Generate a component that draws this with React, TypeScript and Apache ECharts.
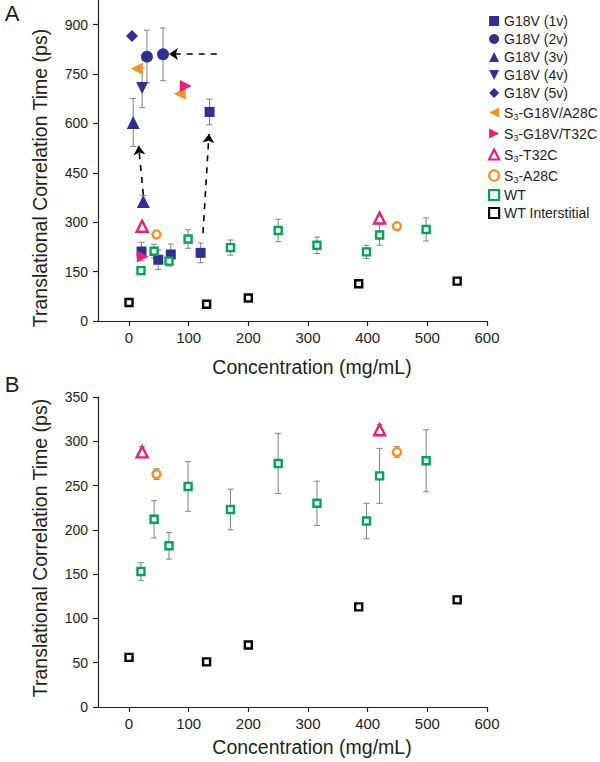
import React, { useEffect, useRef } from "react";
import * as echarts from "echarts";

// ---------- data ----------
const wtX = [20, 42, 67, 99, 170, 250, 315, 398, 420, 498];
const wtY = [153, 212, 182, 249, 223, 275, 230, 210, 261, 278];
const wtErr = [10, 21, 15, 28, 23, 34, 25, 20, 31, 35];

const wiX = [0, 130, 200, 385, 550];
const wiY = [56, 51, 70, 113, 121];

const t32cX = [22, 420];
const t32cY = [288, 313];
const t32cErr = [6, 6];

const a28cX = [46, 449];
const a28cY = [263, 288];
const a28cErr = [6, 6];

const v1X = [21, 49, 70, 120, 135];
const v1Y = [211, 186, 202, 207, 635];
const v1Err = [28, 30, 32, 30, 39];

const v2X = [30, 57];
const v2Y = [803, 810];
const v2Err = [80, 80];

const v3X = [7, 24];
const v3Y = [603, 363];
const v3Err = [73, 18];

const v4X = [22];
const v4Y = [708];
const v4Err = [60];

const v5X = [5];
const v5Y = [866];

const gA28cX = [13, 85];
const gA28cY = [766, 690];

const gT32cX = [23, 95];
const gT32cY = [196, 714];

// arrows in panel A: [x0, y0, x1, y1]
const arrows = [
  [24, 383, 16, 532],
  [124, 267, 134, 568],
  [147, 811, 67, 811],
];

const xTicks = [0, 100, 200, 300, 400, 500, 600];
const yTicksA = [0, 150, 300, 450, 600, 750, 900];
const yTicksB = [0, 50, 100, 150, 200, 250, 300, 350];

const legendNames = [
  "G18V (1v)",
  "G18V (2v)",
  "G18V (3v)",
  "G18V (4v)",
  "G18V (5v)",
  "S3-G18V/A28C",
  "S3-G18V/T32C",
  "S3-T32C",
  "S3-A28C",
  "WT",
  "WT Interstitial",
];
const hollowNames = ["S3-T32C", "S3-A28C", "WT", "WT Interstitial"];

// ---------- styles ----------
const FONT = "'Liberation Sans', Arial, sans-serif";
const TXT = "#231f20";
const NAVY = "#2E3192";
const ORANGE = "#F7901E";
const PINK = "#EC1E79";
const GREEN = "#00A651";
const ERR = "#808285";

const LEFT_TRI = "path://M0,5L10,0L10,10Z";
const RIGHT_TRI = "path://M0,0L10,5L0,10Z";
const DOWN_TRI = "path://M0,0L10,0L5,10Z";

const pts = (xs: number[], ys: number[]) => xs.map((x, i) => [x, ys[i]]);
const errs = (xs: number[], ys: number[], es: number[]) =>
  xs.map((x, i) => [x, ys[i] - es[i], ys[i] + es[i]]);

function errorSeries(data: number[][], axis: number) {
  return {
    type: "custom",
    name: "err" + axis,
    xAxisIndex: axis,
    yAxisIndex: axis,
    z: 1,
    silent: true,
    data,
    encode: { x: 0, y: [1, 2] },
    renderItem: (_p: any, api: any) => {
      const x = api.value(0);
      const lo = api.coord([x, api.value(1)]);
      const hi = api.coord([x, api.value(2)]);
      const w = 3;
      const st = { stroke: ERR, lineWidth: 1 };
      return {
        type: "group",
        children: [
          { type: "line", shape: { x1: lo[0], y1: lo[1], x2: hi[0], y2: hi[1] }, style: st },
          { type: "line", shape: { x1: lo[0] - w, y1: lo[1], x2: lo[0] + w, y2: lo[1] }, style: st },
          { type: "line", shape: { x1: hi[0] - w, y1: hi[1], x2: hi[0] + w, y2: hi[1] }, style: st },
        ],
      };
    },
  };
}

function scatter(name: string, data: number[][], axis: number, symbol: string, size: number, color: string, hollow = false) {
  return {
    type: "scatter",
    name,
    xAxisIndex: axis,
    yAxisIndex: axis,
    z: 3,
    data,
    symbol,
    symbolSize: size,
    itemStyle: hollow
      ? { color: "#fff", borderColor: color, borderWidth: 2.4, opacity: 1 }
      : { color, opacity: 1 },
  };
}

function xAxis(grid: number) {
  return {
    type: "value",
    gridIndex: grid,
    min: -52,
    max: 600,
    splitLine: { show: false },
    axisLine: { onZero: false, lineStyle: { color: TXT, width: 1.2 } },
    axisTick: { customValues: xTicks, length: 5, lineStyle: { color: TXT, width: 1.2 } },
    axisLabel: { customValues: xTicks, margin: 9, fontSize: 15, fontFamily: FONT, color: TXT },
  };
}

function yAxis(grid: number, max: number, ticks: number[]) {
  return {
    type: "value",
    gridIndex: grid,
    min: 0,
    max,
    splitLine: { show: false },
    axisLine: { show: true, onZero: false, lineStyle: { color: TXT, width: 1.2 } },
    axisTick: { show: true, customValues: ticks, length: 5, lineStyle: { color: TXT, width: 1.2 } },
    axisLabel: { customValues: ticks, margin: 10, fontSize: 14, fontFamily: FONT, color: TXT },
  };
}

export default function App() {
  const ref = useRef<HTMLDivElement>(null);

  useEffect(() => {
    if (!ref.current) return;
    const chart = echarts.init(ref.current, undefined, { renderer: "svg" });

    const errA = [
      ...errs(v1X, v1Y, v1Err),
      ...errs(v2X, v2Y, v2Err),
      ...errs(v3X, v3Y, v3Err),
      ...errs(v4X, v4Y, v4Err),
      ...errs(wtX, wtY, wtErr),
      ...errs(t32cX, t32cY, t32cErr),
      ...errs(a28cX, a28cY, a28cErr),
    ];
    const errB = [
      ...errs(wtX, wtY, wtErr),
      ...errs(t32cX, t32cY, t32cErr),
      ...errs(a28cX, a28cY, a28cErr),
    ];

    const nameStyle = { fontFamily: FONT, fontSize: 19.5, fill: TXT };

    const option: any = {
      animation: false,
      backgroundColor: "#fff",
      grid: [
        { left: 98, top: 0, width: 389, height: 321 },
        { left: 98, top: 397, width: 389, height: 310 },
      ],
      xAxis: [xAxis(0), xAxis(1)],
      yAxis: [yAxis(0, 975, yTicksA), yAxis(1, 350, yTicksB)],
      legend: {
        data: legendNames.map((n) =>
          hollowNames.includes(n) ? { name: n, itemStyle: { borderWidth: 2.2 } } : { name: n }
        ),
        orient: "vertical",
        left: 483,
        top: 9,
        itemWidth: 10,
        itemHeight: 10,
        itemGap: 4,
        textStyle: {
          fontFamily: FONT,
          fontSize: 14,
          color: TXT,
          lineHeight: 14,
          rich: {
            sub: { fontFamily: FONT, fontSize: 9, color: TXT, lineHeight: 17, verticalAlign: "bottom" },
          },
        },
        formatter: (n: string) => n.replace(/^S3/, "S{sub|3}"),
        selectedMode: false,
      },
      graphic: [
        { type: "text", x: 12, y: 13, style: { text: "A", fontFamily: FONT, fontSize: 22, fill: TXT, align: "center", verticalAlign: "middle" } },
        { type: "text", x: 12, y: 384, style: { text: "B", fontFamily: FONT, fontSize: 22, fill: TXT, align: "center", verticalAlign: "middle" } },
        { type: "text", x: 40, y: 178, rotation: Math.PI / 2, style: { ...nameStyle, text: "Translational Correlation Time (ps)", align: "center", verticalAlign: "middle" } },
        { type: "text", x: 40, y: 548, rotation: Math.PI / 2, style: { ...nameStyle, text: "Translational Correlation Time (ps)", align: "center", verticalAlign: "middle" } },
        { type: "text", x: 312, y: 367, style: { ...nameStyle, text: "Concentration (mg/mL)", align: "center", verticalAlign: "middle" } },
        { type: "text", x: 312, y: 747, style: { ...nameStyle, text: "Concentration (mg/mL)", align: "center", verticalAlign: "middle" } },
      ],
      series: [
        errorSeries(errA, 0),
        errorSeries(errB, 1),
        {
          type: "lines",
          coordinateSystem: "cartesian2d",
          xAxisIndex: 0,
          yAxisIndex: 0,
          z: 2,
          silent: true,
          symbol: ["none", "arrow"],
          symbolSize: 9,
          lineStyle: { color: "#000", width: 1.6, type: [6, 6], opacity: 1 },
          data: arrows.map((a) => ({ coords: [[a[0], a[1]], [a[2], a[3]]] })),
        },
        scatter("G18V (1v)", pts(v1X, v1Y), 0, "rect", 10, NAVY),
        scatter("G18V (2v)", pts(v2X, v2Y), 0, "circle", 12, NAVY),
        scatter("G18V (3v)", pts(v3X, v3Y), 0, "triangle", 13, NAVY),
        scatter("G18V (4v)", pts(v4X, v4Y), 0, DOWN_TRI, 12, NAVY),
        scatter("G18V (5v)", pts(v5X, v5Y), 0, "diamond", 12, NAVY),
        scatter("S3-G18V/A28C", pts(gA28cX, gA28cY), 0, LEFT_TRI, 12, ORANGE),
        scatter("S3-G18V/T32C", pts(gT32cX, gT32cY), 0, RIGHT_TRI, 12, PINK),
        scatter("S3-T32C", pts(t32cX, t32cY), 0, "triangle", 11, PINK, true),
        scatter("S3-A28C", pts(a28cX, a28cY), 0, "circle", 8, ORANGE, true),
        scatter("WT", pts(wtX, wtY), 0, "rect", 7, GREEN, true),
        scatter("WT Interstitial", pts(wiX, wiY), 0, "rect", 7, "#000", true),
        scatter("S3-T32C", pts(t32cX, t32cY), 1, "triangle", 11, PINK, true),
        scatter("S3-A28C", pts(a28cX, a28cY), 1, "circle", 8, ORANGE, true),
        scatter("WT", pts(wtX, wtY), 1, "rect", 7, GREEN, true),
        scatter("WT Interstitial", pts(wiX, wiY), 1, "rect", 7, "#000", true),
      ],
    };

    chart.setOption(option);
    return () => chart.dispose();
  }, []);

  return (
    <div
      ref={ref}
      style={{ position: "fixed", left: 0, top: 0, width: 600, height: 762, background: "#fff" }}
    />
  );
}
